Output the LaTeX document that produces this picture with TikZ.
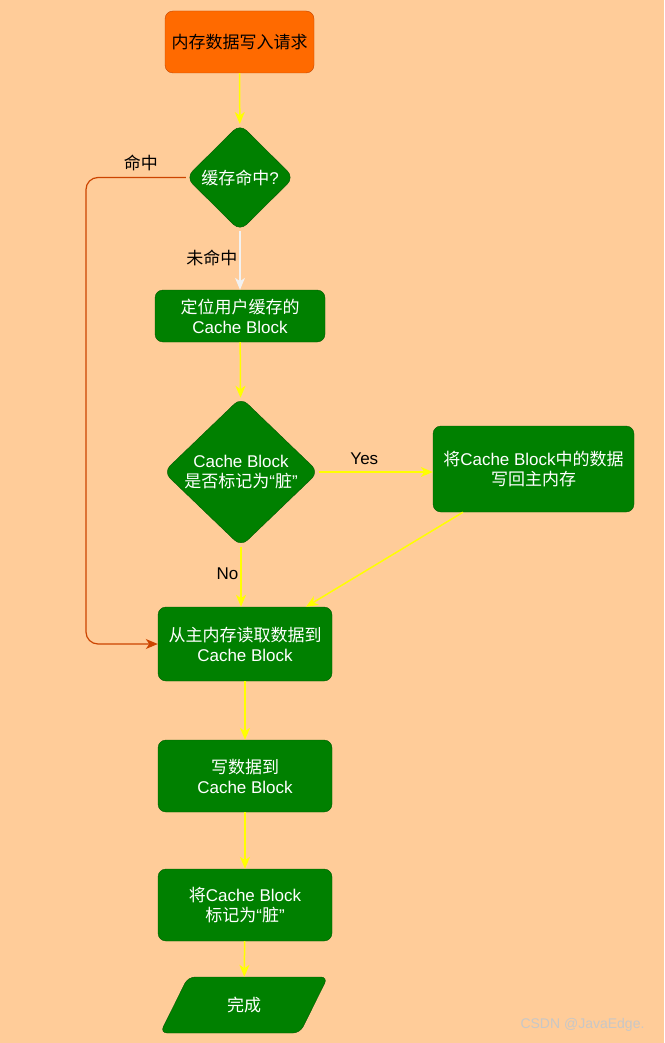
\documentclass[tikz,border=0pt]{standalone}
\usepackage{fontspec}
\setmainfont{Liberation Sans}
\newfontfamily\zh{Noto Sans CJK SC}
\usetikzlibrary{arrows.meta,shapes.geometric,calc}
\definecolor{bgc}{RGB}{255,204,153}
\definecolor{grn}{RGB}{0,128,0}
\definecolor{grnd}{RGB}{0,90,0}
\definecolor{org}{RGB}{255,106,0}
\definecolor{orgd}{RGB}{196,70,0}
\definecolor{hitc}{RGB}{204,68,0}
\definecolor{ylw}{RGB}{255,255,0}
\tikzset{
  base/.style ={draw=grnd,fill=grn,text=white,align=center,inner sep=0pt,font=\fontsize{17}{20}\selectfont},
  proc/.style ={base,rectangle,rounded corners=8pt},
  start/.style={proc,draw=orgd,fill=org,text=black},
  dec/.style  ={base,diamond,aspect=1,rounded corners=9pt},
  io/.style   ={base,trapezium,trapezium left angle=62,trapezium right angle=118,trapezium stretches=true,rounded corners=7pt},
  lab/.style  ={font=\fontsize{17}{20}\selectfont,text=black,inner sep=2pt},
  yar/.style  ={draw=ylw,line width=1.5pt,-{Stealth[length=12pt,width=10pt,inset=3.5pt]}},
  missar/.style={draw=white!90!gray,line width=1.2pt,-{Stealth[length=12pt,width=10pt,inset=3.5pt]}},
  hitar/.style={draw=hitc,line width=1.2pt,-{Stealth[length=12pt,width=10pt,inset=3.5pt]}},
}

\begin{document}
\begin{tikzpicture}[x=1pt,y=-1pt]
  \fill[bgc] (0,0) rectangle (664,1043);
  % main column, top to bottom
  \node[start,minimum width=149,minimum height=62] (req) at (239.5,42){{\zh 内存数据写入请求}};
  \node[dec,minimum width=108,minimum height=107] (hit) at (240,177.5){{\zh 缓存命中}?};
  \node[proc,minimum width=170,minimum height=52] (loc) at (240,316){{\zh 定位用户缓存的}\\Cache Block};
  \node[dec,minimum width=155,minimum height=149] (dirty) at (241,472){Cache Block\\{\zh 是否标记为}“{\zh 脏}”};
  \node[proc,minimum width=201,minimum height=86] (wb) at (533.5,469){{\zh 将}Cache Block{\zh 中的数据}\\{\zh 写回主内存}};
  \node[proc,minimum width=174,minimum height=74] (rd) at (245,644){{\zh 从主内存读取数据到}\\Cache Block};
  \node[proc,minimum width=174,minimum height=72] (wr) at (245,776){{\zh 写数据到}\\Cache Block};
  \node[proc,minimum width=174,minimum height=72] (mk) at (245,905){{\zh 将}Cache Block\\{\zh 标记为}“{\zh 脏}”};
  \node[io,minimum width=168,minimum height=56] (done) at (244,1005){{\zh 完成}};
  \coordinate (hk) at (86,177.5);
  % connectors
  \draw[yar] (req) -- (hit);
  \draw[missar] (hit) -- node[lab,left,pos=0.46]{{\zh 未命中}} (loc);
  \draw[hitar,rounded corners=12pt] (hit.west) -- node[lab,above=4pt,pos=0.45]{{\zh 命中}} (hk) |- (rd.west);
  \draw[yar] (loc) -- (dirty);
  \draw[yar] (dirty.east) -- node[lab,above=5pt,pos=0.4]{Yes} (dirty.east -| wb.west);
  \draw[yar] (dirty) -- node[lab,left,pos=0.45]{No} (dirty |- rd.north);
  \draw[yar] ($(wb.south west)!0.15!(wb.south east)$) -- ($(rd.north west)!0.85!(rd.north east)$);
  \draw[yar] (rd) -- (wr);
  \draw[yar] (wr) -- (mk);
  \draw[yar] (mk) -- (done);
  \node[font=\fontsize{14}{16}\selectfont,text=white!78!black,anchor=east] (wm) at (648,1025){CSDN @JavaEdge.};
\end{tikzpicture}
\end{document}
